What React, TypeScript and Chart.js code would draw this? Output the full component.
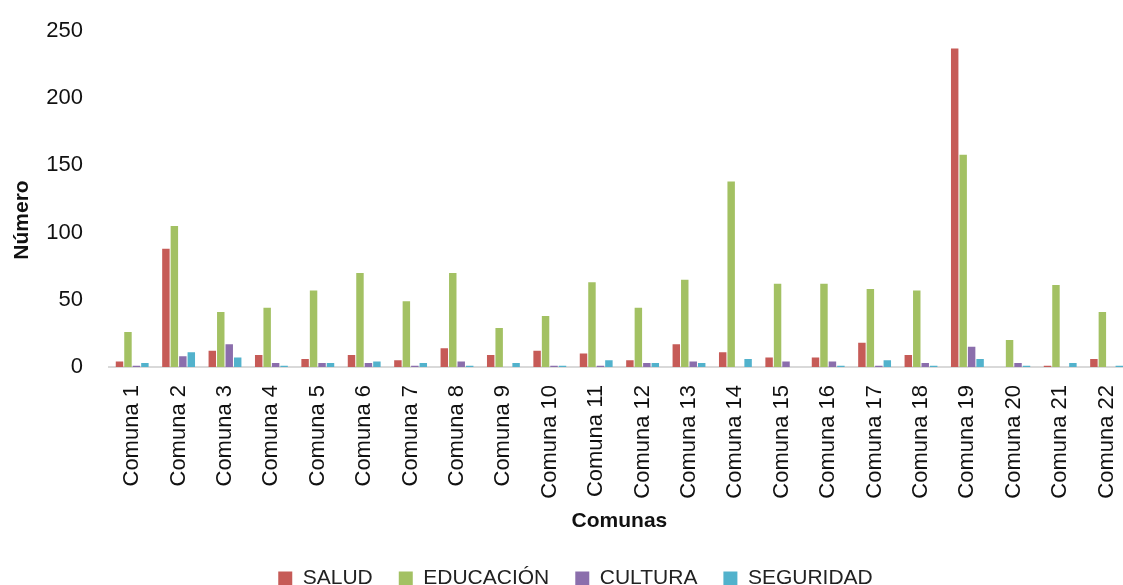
import React, { useEffect, useRef } from "react";
import { Chart, registerables } from "chart.js";

Chart.register(...registerables);

const categories = [
  "Comuna 1", "Comuna 2", "Comuna 3", "Comuna 4", "Comuna 5", "Comuna 6",
  "Comuna 7", "Comuna 8", "Comuna 9", "Comuna 10", "Comuna 11", "Comuna 12",
  "Comuna 13", "Comuna 14", "Comuna 15", "Comuna 16", "Comuna 17", "Comuna 18",
  "Comuna 19", "Comuna 20", "Comuna 21", "Comuna 22",
];

const salud = [4, 88, 12, 9, 6, 9, 5, 14, 9, 12, 10, 5, 17, 11, 7, 7, 18, 9, 237, 0, 1, 6];
const educacion = [26, 105, 41, 44, 57, 70, 49, 70, 29, 38, 63, 44, 65, 138, 62, 62, 58, 57, 158, 20, 61, 41];
const cultura = [1, 8, 17, 3, 3, 3, 1, 4, 0, 1, 1, 3, 4, 0, 4, 4, 1, 3, 15, 3, 0, 0];
const seguridad = [3, 11, 7, 1, 3, 4, 3, 1, 3, 1, 5, 3, 3, 6, 0, 1, 5, 1, 6, 1, 3, 1];

const seriesNames = ["SALUD", "EDUCACIÓN", "CULTURA", "SEGURIDAD"];
const seriesColors = ["#C65B57", "#A3C163", "#8B6EAC", "#52B2CC"];

const yMin = 0;
const yMax = 250;
const yStep = 50;
const yTitle = "Número";
const xTitle = "Comunas";

const FONT = "'Liberation Sans', Arial, sans-serif";

const yTitlePlugin = {
  id: "yTitlePlugin",
  afterDraw(chart: any) {
    const ctx = chart.ctx;
    ctx.save();
    ctx.translate(22, 220);
    ctx.rotate(-Math.PI / 2);
    ctx.font = `bold 21px ${FONT}`;
    ctx.fillStyle = "#111";
    ctx.textAlign = "center";
    ctx.textBaseline = "middle";
    ctx.fillText(yTitle, 0, 0);
    ctx.restore();
  },
};

export default function App() {
  const ref = useRef<HTMLCanvasElement | null>(null);

  useEffect(() => {
    document.body.style.margin = "0";
    document.body.style.overflow = "hidden";
    const canvas = ref.current;
    if (!canvas) return;
    const values = [salud, educacion, cultura, seguridad];
    const chart = new Chart(canvas, {
      type: "bar",
      data: {
        labels: categories,
        datasets: seriesNames.map((name, i) => ({
          label: name,
          data: values[i],
          backgroundColor: seriesColors[i],
          borderWidth: 0,
          categoryPercentage: 0.73,
          barPercentage: 0.88,
        })),
      },
      plugins: [yTitlePlugin],
      options: {
        responsive: false,
        animation: false,
        devicePixelRatio: 1,
        layout: { padding: { top: 31, left: 0, right: 0, bottom: 0 } },
        plugins: {
          tooltip: { enabled: false },
          legend: {
            position: "bottom",
            labels: {
              boxWidth: 14,
              boxHeight: 14,
              padding: 26,
              color: "#222",
              font: { family: FONT, size: 21 },
            },
          },
        },
        scales: {
          x: {
            grid: { display: false, drawTicks: false },
            border: { display: true, color: "#d9d9d9", width: 2 },
            ticks: {
              minRotation: 90,
              maxRotation: 90,
              autoSkip: false,
              padding: 18,
              color: "#111",
              font: { family: FONT, size: 22 },
            },
            title: {
              display: true,
              text: xTitle,
              color: "#111",
              font: { family: FONT, size: 21, weight: "bold" },
              padding: { top: 0, bottom: 8 },
            },
            afterFit: (scale: any) => {
              scale.height = 175;
            },
          },
          y: {
            min: yMin,
            max: yMax,
            grid: { display: false, drawTicks: false },
            border: { display: false },
            ticks: {
              stepSize: yStep,
              padding: 26,
              color: "#111",
              font: { family: FONT, size: 22 },
            },
            afterFit: (scale: any) => {
              scale.width = 109;
              scale.paddingTop = 0;
              scale.paddingBottom = 0;
            },
          },
        },
      },
    });
    return () => chart.destroy();
  }, []);

  return (
    <div style={{ position: "absolute", left: 0, top: 0, width: 1151, height: 599 }}>
      <canvas ref={ref} width={1151} height={599} />
    </div>
  );
}
